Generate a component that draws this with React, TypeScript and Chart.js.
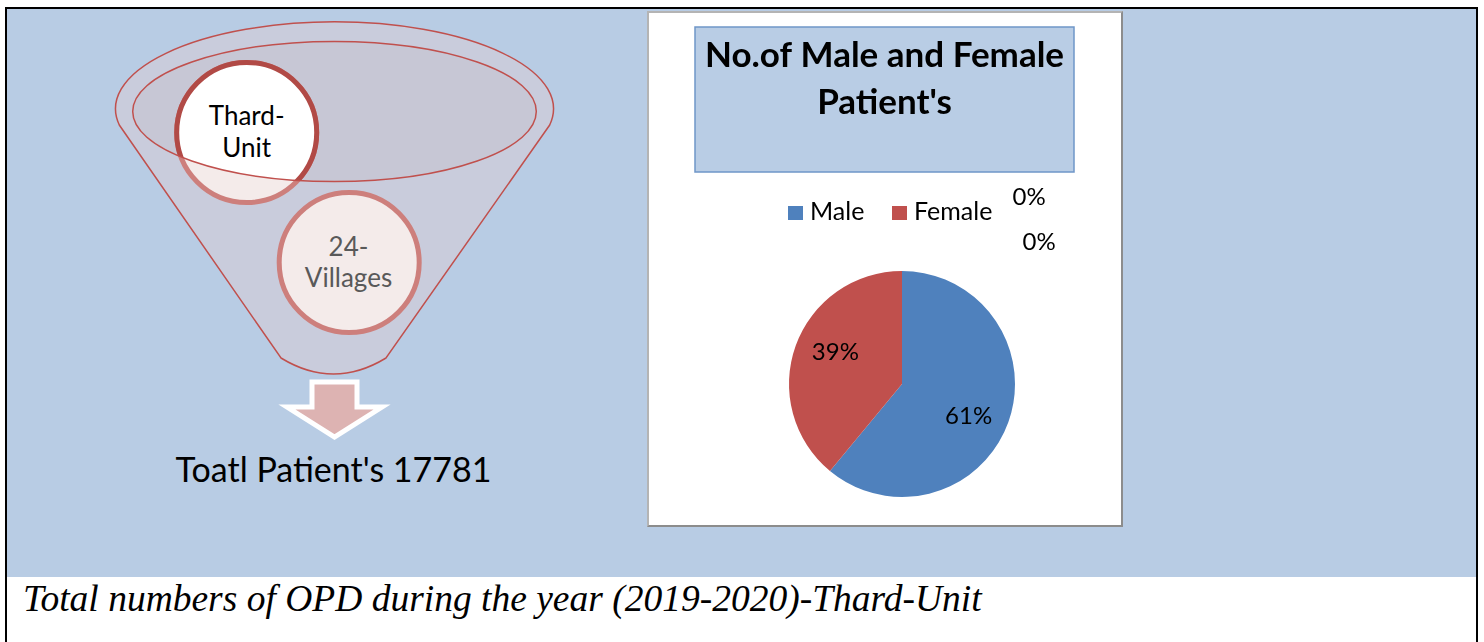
import React, { useEffect, useRef } from "react";
import { Chart, registerables } from "chart.js";

Chart.register(...registerables);

// ---- data ----
const categories = ["Male", "Female"];
const shareValues = [61, 39];
const sliceColors = ["#4F81BD", "#C0504D"];
const strayLabels = ["0%", "0%"];
const chartTitleLines = ["No.of Male and Female", "Patient's"];
const funnelItems = ["Thard-\nUnit", "24-\nVillages"];
const totalText = "Toatl Patient's 17781";
const captionText = "Total numbers of OPD during the year (2019-2020)-Thard-Unit";

const FONT = "Lato, 'Open Sans', sans-serif";

const overlayPlugin = {
  id: "overlay",
  afterDatasetsDraw(chart: any) {
    const ctx = chart.ctx;
    ctx.save();
    // title box
    ctx.fillStyle = "#B9CDE5";
    ctx.fillRect(46, 14, 379, 145);
    ctx.strokeStyle = "#6F96C8";
    ctx.lineWidth = 1.5;
    ctx.strokeRect(46, 14, 379, 145);
    ctx.fillStyle = "#000";
    ctx.font = `bold 35px ${FONT}`;
    ctx.textAlign = "center";
    ctx.textBaseline = "alphabetic";
    ctx.fillText(chartTitleLines[0], 235.5, 54);
    ctx.fillText(chartTitleLines[1], 235.5, 100.5);

    // legend
    ctx.font = `25px ${FONT}`;
    ctx.textAlign = "left";
    const legendX = [139, 243];
    categories.forEach((c, i) => {
      ctx.fillStyle = sliceColors[i];
      ctx.fillRect(legendX[i], 193, 15, 14);
      ctx.fillStyle = "#000";
      ctx.fillText(c, legendX[i] + 22, 207);
    });

    // stray 0% labels
    ctx.font = `24px ${FONT}`;
    ctx.fillText(strayLabels[0], 363.5, 192);
    ctx.fillText(strayLabels[1], 373.5, 237);

    // slice labels (Excel best-fit style placement)
    const meta = chart.getDatasetMeta(0);
    const total = shareValues.reduce((a, b) => a + b, 0);
    ctx.textAlign = "center";
    ctx.textBaseline = "middle";
    ctx.font = `24px ${FONT}`;
    meta.data.forEach((arc: any, i: number) => {
      const mid = (arc.startAngle + arc.endAngle) / 2 + 0.105;
      const r = arc.outerRadius * 0.655;
      const x = arc.x + Math.cos(mid) * r;
      const y = arc.y + Math.sin(mid) * r;
      ctx.fillStyle = "#000";
      ctx.fillText(Math.round((shareValues[i] / total) * 100) + "%", x, y);
    });
    ctx.restore();
  },
};

function PieChart() {
  const ref = useRef<HTMLCanvasElement>(null);
  useEffect(() => {
    if (!ref.current) return;
    const chart = new Chart(ref.current, {
      type: "pie",
      data: {
        labels: categories,
        datasets: [
          {
            data: shareValues,
            backgroundColor: sliceColors,
            borderWidth: 0,
          },
        ],
      },
      options: {
        animation: false,
        responsive: false,
        devicePixelRatio: 1,
        layout: { padding: { left: 140, right: 106, top: 258, bottom: 28 } },
        plugins: {
          legend: { display: false },
          title: { display: false },
          tooltip: { enabled: false },
        },
      },
      plugins: [overlayPlugin],
    });
    return () => chart.destroy();
  }, []);
  return <canvas ref={ref} width={472} height={512} style={{ display: "block" }} />;
}

function Funnel() {
  const cx = 334.5;
  const [t1a, t1b] = funnelItems[0].split("\n");
  const [t2a, t2b] = funnelItems[1].split("\n");
  return (
    <svg
      width={1484}
      height={642}
      style={{ position: "absolute", left: 0, top: 0 }}
    >
      <defs>
        <clipPath id="innerEll">
          <ellipse cx={cx} cy={111.5} rx={201.8} ry={70} />
        </clipPath>
      </defs>
      <path
        d="M 119.3 125 A 219 87 0 1 1 549.7 125 L 386 358 Q 333.5 390 281 358 Z"
        fill="#C9CCDC"
        stroke="#C0504D"
        strokeWidth={1.5}
      />
      <ellipse cx={cx} cy={111.5} rx={201.8} ry={70} fill="#C7C7D5" />
      {/* Thard circle: faded */}
      <circle cx={246.7} cy={132.5} r={70} fill="#F4EBEA" stroke="#CD7F7C" strokeWidth={5} />
      <g clipPath="url(#innerEll)">
        <circle cx={246.7} cy={132.5} r={70} fill="#FFFFFF" stroke="#B14A46" strokeWidth={5} />
      </g>
      <ellipse cx={cx} cy={111.5} rx={201.8} ry={70} fill="none" stroke="#C0504D" strokeWidth={1.5} />
      {/* Villages circle */}
      <circle cx={349.2} cy={262.5} r={70} fill="#F4EBEA" stroke="#CD7F7C" strokeWidth={5} />
      <text x={246.7} y={125} textAnchor="middle" fontFamily={FONT} fontSize={26} fill="#000">{t1a}</text>
      <text x={246.7} y={157} textAnchor="middle" fontFamily={FONT} fontSize={26} fill="#000">{t1b}</text>
      <text x={348.5} y={256} textAnchor="middle" fontFamily={FONT} fontSize={26} fill="#595959">{t2a}</text>
      <text x={348.5} y={287} textAnchor="middle" fontFamily={FONT} fontSize={26} fill="#595959">{t2b}</text>
      {/* arrow */}
      <path
        d="M 312 382 L 357 382 L 357 407 L 382 407 L 334.5 437 L 287 407 L 312 407 Z"
        fill="#DDB3B2"
        stroke="#FFFFFF"
        strokeWidth={5}
        strokeLinejoin="miter"
      />
      <text x={333.5} y={482} textAnchor="middle" fontFamily={FONT} fontSize={34} fill="#000">{totalText}</text>
    </svg>
  );
}

export default function App() {
  return (
    <div style={{ position: "absolute", left: 0, top: 0, width: 1484, height: 642, overflow: "hidden", background: "#fff" }}>
      <div
        style={{
          position: "absolute",
          left: 5,
          top: 7,
          width: 1473,
          height: 700,
          border: "2px solid #000",
          boxSizing: "border-box",
        }}
      />
      <div style={{ position: "absolute", left: 7, top: 9, width: 1469, height: 568, background: "#B8CCE4" }} />
      <Funnel />
      <div
        style={{
          position: "absolute",
          left: 647,
          top: 11,
          width: 476,
          height: 516,
          boxSizing: "border-box",
          background: "#fff",
          borderTop: "2px solid #B4B4B4",
          borderLeft: "2px solid #B4B4B4",
          borderRight: "2px solid #8C8C8C",
          borderBottom: "2px solid #8C8C8C",
        }}
      >
        <PieChart />
      </div>
      <div
        style={{
          position: "absolute",
          left: 23,
          top: 579,
          fontFamily: "'Liberation Serif', 'Times New Roman', serif",
          fontStyle: "italic",
          fontSize: 37.5,
          lineHeight: "40px",
          whiteSpace: "nowrap",
          color: "#000",
        }}
      >
        {captionText}
      </div>
    </div>
  );
}
